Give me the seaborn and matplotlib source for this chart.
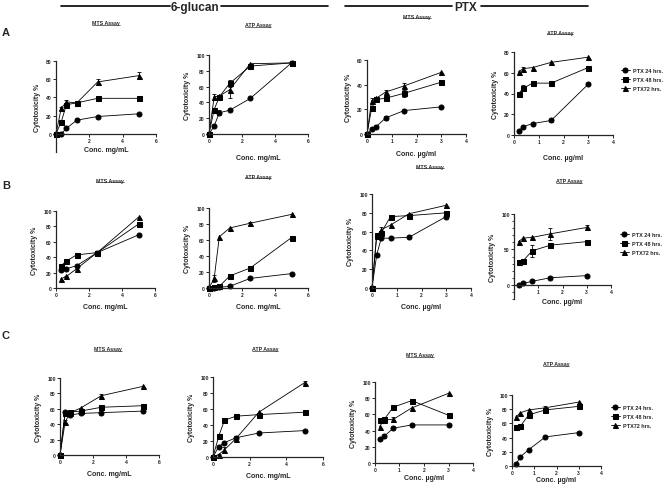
import matplotlib
matplotlib.use("Agg")
import numpy as np
import pandas as pd
import matplotlib.pyplot as plt
from matplotlib.lines import Line2D
from matplotlib.ticker import MultipleLocator
import seaborn as sns

# ---------------- data ----------------
glu_x = [0, 0.3125, 0.625, 1.25, 2.5, 5]        # mg/mL
ptx_x = [0, 0.1875, 0.375, 0.75, 1.5, 3]        # ug/ml
times = ["24 hrs", "48 hrs", "72 hrs"]
legend_labels = ["PTX 24 hrs.", "PTX 48 hrs.", "PTX72 hrs."]

# row A
a1_24 = [0, 0, 6, 15, 19, 22]
a1_48 = [0, 13, 32, 34, 39, 39]
a1_72 = [0, 28, 35, 34, 57, 64]
a1_err = [[0] * 6, [0] * 6, [0, 2, 2, 2, 3, 4]]

a2_24 = [0, 10, 27, 30, 45, 90]
a2_48 = [0, 31, 47, 64, 86, 90]
a2_72 = [0, 47, 48, 56, 89, 90]
a2_err = [[0, 0, 3, 0, 0, 0], [0, 0, 0, 4, 0, 0], [0, 4, 0, 10, 0, 0]]

a3_24 = [0, 4, 6, 13, 19, 22]
a3_48 = [0, 21, 28, 29, 33, 42]
a3_72 = [0, 27, 29, 34, 39, 50]
a3_err = [[0, 1, 1, 2, 0, 0], [0, 0, 2, 1, 3, 2], [0, 2, 1, 2, 2, 0]]

a4_24 = [4, 8, 11, 14, 49]
a4_48 = [40, 45, 50, 50, 65]
a4_72 = [61, 64, 65, 70, 75]
a4_err = [[1, 0, 0, 1, 0], [0, 3, 0, 0, 0], [0, 2, 0, 0, 0]]

# row B
b1_24 = [24, 25, 29, 46, 69]
b1_48 = [29, 35, 43, 46, 83]
b1_72 = [12, 15, 25, 46, 92]
b1_err = [[0] * 5, [0] * 5, [0, 1, 2, 0, 0]]

b2_24 = [0, 0.5, 1, 2, 12, 18]
b2_48 = [0, 1, 2, 15, 25, 63]
b2_72 = [0, 12, 64, 75, 81, 92]
b2_err = [[0] * 6, [0, 0, 0, 0, 0, 2], [0, 4, 0, 0, 2, 0]]

b3_24 = [0, 35, 53, 53, 54, 76]
b3_48 = [0, 56, 59, 76, 77, 80]
b3_72 = [0, 55, 62, 67, 79, 88]
b3_err = [[0] * 6, [0, 0, 2, 0, 0, 0], [0, 0, 3, 0, 0, 0]]

b4_24 = [0, 2, 5, 10, 13]
b4_48 = [32, 34, 48, 56, 61]
b4_72 = [61, 66, 67, 72, 81]
b4_err = [[0] * 5, [0, 0, 8, 0, 0], [0, 0, 0, 8, 4]]

# row C
c1_24 = [0, 56, 52, 54, 55, 57]
c1_48 = [0, 55, 56, 57, 62, 64]
c1_72 = [0, 43, 55, 61, 77, 89]
c1_err = [[0] * 6, [0] * 6, [0, 2, 0, 0, 2, 0]]

c2_24 = [0, 13, 18, 24, 30, 33]
c2_48 = [0, 26, 46, 51, 53, 56]
c2_72 = [0, 3, 9, 23, 56, 93]
c2_err = [[0] * 6, [0] * 6, [0, 1, 3, 3, 0, 2]]

c3_24 = [30, 33, 43, 47, 47]
c3_48 = [53, 54, 69, 77, 59]
c3_72 = [45, 53, 54, 68, 86]
c3_err = [[0, 2, 0, 0, 0], [0, 0, 0, 0, 2], [0, 0, 3, 0, 0]]

c4_24 = [3, 13, 23, 41, 47]
c4_48 = [55, 56, 72, 79, 84]
c4_72 = [69, 75, 79, 82, 90]
c4_err = [[0] * 5, [0] * 5, [0, 0, 0, 3, 0]]

# ---------------- figure ----------------
sns.set_style("ticks")
plt.rcParams['font.family'] = ['Liberation Sans', 'DejaVu Sans']
plt.rcParams['font.weight'] = 'bold'
plt.rcParams['axes.labelweight'] = 'bold'

W, H = 669, 485
fig = plt.figure(figsize=(W / 100, H / 100), dpi=100)


def fx(p):
    return p / W


def fy(p):
    return 1 - p / H


def panel(box, xs, ys, errs, xlim, ylim, ystep, xlab, xpad, title, tpos,
          legend_at=None, hide_x0=False, minor=None):
    L, T, R, B = box
    ax = fig.add_axes([fx(L), fy(B), fx(R - L), (B - T) / H])
    df = pd.DataFrame({
        "conc": list(xs) * 3,
        "tox": ys[0] + ys[1] + ys[2],
        "time": [t for t in times for _ in xs],
    })
    sns.lineplot(data=df, x="conc", y="tox", style="time", style_order=times,
                 markers={"24 hrs": "o", "48 hrs": "s", "72 hrs": "^"},
                 dashes=False, color="black", markersize=3.6, linewidth=0.6,
                 markeredgecolor="black", errorbar=None, legend=False,
                 clip_on=False, ax=ax)
    handles = list(ax.get_lines()[:3])
    for y, e in zip(ys, errs):
        xi = [x for x, v in zip(xs, e) if v > 0]
        yi = [a for a, v in zip(y, e) if v > 0]
        ei = [v for v in e if v > 0]
        if ei:
            ax.errorbar(xi, yi, yerr=ei, fmt="none", ecolor="black",
                        elinewidth=0.6, capsize=1.6, capthick=0.6, clip_on=False)
    xstep = 2 if xlim[1] == 6 else 1
    xt = np.arange(0, xlim[1] + 0.01, xstep)
    ax.set_xticks(xt[1:] if hide_x0 else xt)
    ax.set_yticks(np.arange(0, ylim[1] + 0.01, ystep))
    if minor:
        ax.yaxis.set_minor_locator(MultipleLocator(minor))
    ax.set_xlim(*xlim)
    ax.set_ylim(*ylim)
    if ylim[0] < 0:
        ax.spines["bottom"].set_position(("data", 0))
    for s in ["top", "right"]:
        ax.spines[s].set_visible(False)
    for s in ["left", "bottom"]:
        ax.spines[s].set_linewidth(0.9)
    ax.tick_params(length=2, width=0.7, labelsize=3.6, pad=1)
    ax.tick_params(which="minor", length=1.3, width=0.6)
    ax.set_xlabel(xlab, fontsize=5, fontweight="bold", labelpad=xpad)
    ax.set_ylabel("Cytotoxicity %", fontsize=5, fontweight="bold", labelpad=4)
    for lab in ax.get_xticklabels() + ax.get_yticklabels():
        lab.set_fontweight("bold")
    t = fig.text(fx(tpos[0]), fy(tpos[1]), title, ha="center", va="center",
                 fontsize=3.8, fontweight="bold")
    titles.append(t)
    if legend_at is not None:
        fig.legend(handles, legend_labels, loc="upper left",
                   bbox_to_anchor=(fx(legend_at[0]), fy(legend_at[1])),
                   frameon=False, prop={"size": 4, "weight": "bold"},
                   handlelength=1.6, handletextpad=0.6, labelspacing=0.75,
                   borderaxespad=0, borderpad=0)
    return ax


titles = []
mg = "Conc. mg/mL"
ug = "Conc. µg/ml"

panel((56, 62, 156, 153), glu_x, [a1_24, a1_48, a1_72], a1_err, (0, 6), (-20, 80), 20,
      mg, 2, "MTS Assay", (106, 24), hide_x0=True)
panel((209, 56, 308, 135), glu_x, [a2_24, a2_48, a2_72], a2_err, (0, 6), (0, 100), 20,
      mg, 8, "ATP Assay", (258, 26))
panel((367, 61, 466, 135), ptx_x, [a3_24, a3_48, a3_72], a3_err, (0, 4), (0, 60), 20,
      ug, 5, "MTS Assay", (417, 17))
panel((514, 53, 613, 136), ptx_x[1:], [a4_24, a4_48, a4_72], a4_err, (0, 4), (0, 80), 20,
      ug, 7, "ATP Assay", (560, 33), legend_at=(621, 69))

panel((56, 212, 155, 289), glu_x[1:], [b1_24, b1_48, b1_72], b1_err, (0, 6), (0, 100), 20,
      mg, 4, "MTS Assay", (110, 181))
panel((209, 209, 308, 289), glu_x, [b2_24, b2_48, b2_72], b2_err, (0, 6), (0, 100), 20,
      mg, 4, "ATP Assay", (258, 177))
panel((372, 195, 471, 289), ptx_x, [b3_24, b3_48, b3_72], b3_err, (0, 4), (0, 100), 20,
      ug, 4, "MTS Assay", (430, 167))
panel((514, 215, 611, 300), ptx_x[1:], [b4_24, b4_48, b4_72], b4_err, (0, 4), (-20, 100), 50,
      ug, 3, "ATP Assay", (569, 182), legend_at=(620, 233), hide_x0=True, minor=10)

panel((60, 379, 159, 456), glu_x, [c1_24, c1_48, c1_72], c1_err, (0, 6), (0, 100), 20,
      mg, 4, "MTS Assay", (108, 350))
panel((213, 378, 323, 458), glu_x, [c2_24, c2_48, c2_72], c2_err, (0, 6), (0, 100), 20,
      mg, 4, "ATP Assay", (265, 350))
panel((375, 383, 473, 464), ptx_x[1:], [c3_24, c3_48, c3_72], c3_err, (0, 4), (0, 100), 20,
      ug, 1.5, "MTS Assay", (420, 356))
panel((512, 396, 601, 467), ptx_x[1:], [c4_24, c4_48, c4_72], c4_err, (0, 4), (0, 100), 20,
      ug, 0.5, "ATP Assay", (556, 365), legend_at=(611, 406))

# row letters
for lab, y in [("A", 33), ("B", 186), ("C", 336)]:
    fig.text(fx(2), fy(y), lab, ha="left", va="center", fontsize=8, fontweight="bold")

# group headers with rules
for name, cx, l0, l1, r0, r1 in [("6-glucan", 195, 61, 170, 221, 328),
                                 ("PTX", 466, 345, 452, 481, 588)]:
    fig.text(fx(cx), fy(8), name, ha="center", va="center", fontsize=8.5,
             fontweight="bold")
    for a, b in [(l0, l1), (r0, r1)]:
        fig.add_artist(Line2D([fx(a), fx(b)], [fy(7), fy(7)], color="black",
                              linewidth=1.2, transform=fig.transFigure))

# underline the small assay titles
fig.canvas.draw()
inv = fig.transFigure.inverted()
for t in titles:
    bb = t.get_window_extent().transformed(inv)
    fig.add_artist(Line2D([bb.x0, bb.x1], [bb.y0 + 0.001, bb.y0 + 0.001],
                          color="black", linewidth=0.4, transform=fig.transFigure))

fig.savefig("out.png", dpi=100)
